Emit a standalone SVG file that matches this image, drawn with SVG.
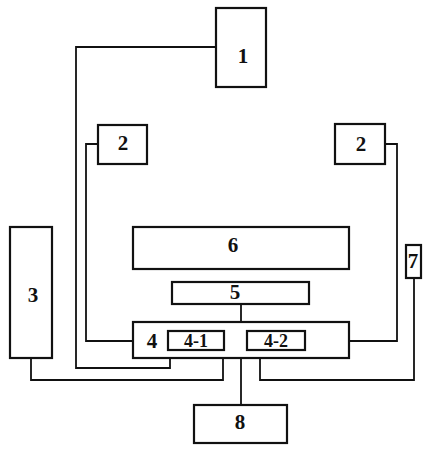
<svg xmlns="http://www.w3.org/2000/svg" width="431" height="450" viewBox="0 0 431 450">
<style>
.b{fill:#fff;stroke:#111;stroke-width:2.2}
.c{fill:none;stroke:#111;stroke-width:1.8}
text{font-family:"Liberation Serif",serif;font-weight:bold;font-size:21px;fill:#111;text-anchor:middle;dominant-baseline:central}
.s{font-size:18px}
</style>
<rect width="431" height="450" fill="#fff"/>
<g id="connectors">
<polyline class="c" points="216,47 76,47 76,368 170,368 170,358"/>
<polyline class="c" points="98,144 86,144 86,341 133,341"/>
<polyline class="c" points="385,144 397,144 397,341 349,341"/>
<polyline class="c" points="31,358 31,380 223,380 223,358"/>
<polyline class="c" points="414,278 414,380 260,380 260,358"/>
<line class="c" x1="241" y1="304" x2="241" y2="322"/>
<line class="c" x1="241" y1="358" x2="241" y2="405"/>
</g>
<g id="n1"><rect class="b" x="216" y="8" width="50" height="79"/><text x="243" y="56">1</text></g>
<g id="n2a"><rect class="b" x="98" y="125" width="49" height="39"/><text x="123" y="143">2</text></g>
<g id="n2b"><rect class="b" x="335" y="124" width="50" height="40"/><text x="361" y="144">2</text></g>
<g id="n3"><rect class="b" x="10" y="227" width="42" height="131"/><text x="33" y="295">3</text></g>
<g id="n6"><rect class="b" x="133" y="227" width="216" height="42"/><text x="233" y="245">6</text></g>
<g id="n7"><rect class="b" x="406" y="245" width="15" height="33"/><text x="413" y="261">7</text></g>
<g id="n5"><rect class="b" x="172" y="282" width="137" height="22"/><text x="235" y="292">5</text></g>
<g id="n4"><rect class="b" x="133" y="322" width="216" height="36"/><text x="152" y="341">4</text>
<g id="n4-1"><rect class="b" x="168" y="331" width="56" height="19"/><text class="s" x="196" y="341">4-1</text></g>
<g id="n4-2"><rect class="b" x="247" y="331" width="58" height="19"/><text class="s" x="276" y="341">4-2</text></g>
</g>
<g id="n8"><rect class="b" x="194" y="405" width="93" height="38"/><text x="240" y="422">8</text></g>
</svg>
